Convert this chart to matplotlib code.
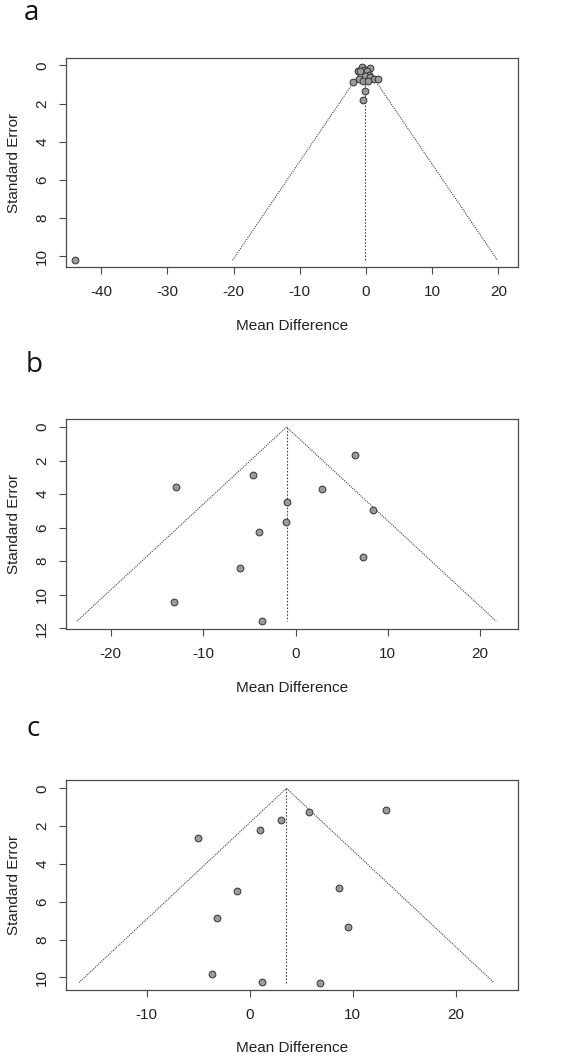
import matplotlib
matplotlib.use("Agg")
import matplotlib.pyplot as plt
import numpy as np

plt.rcParams["font.family"] = ["Liberation Sans", "DejaVu Sans"]

# panel a: mean difference / standard error of each study
md_a = [-0.6, 0.55, -0.25, -1.25, 0.15, -0.85, 0.4, -0.1, -1.1, 0.65,
        1.15, 1.8, -2.0, -0.45, 0.3, -0.15, -0.45, -43.9]
se_a = [0.10, 0.14, 0.23, 0.31, 0.31, 0.28, 0.49, 0.54, 0.70, 0.61,
        0.72, 0.70, 0.89, 0.79, 0.79, 1.36, 1.83, 10.17]
# panel b
md_b = [6.46, -4.62, -12.96, 2.85, -0.97, 8.38, -1.05, -4.0, 7.36, -6.06,
        -13.14, -3.65]
se_b = [1.67, 2.84, 3.58, 3.72, 4.49, 4.95, 5.69, 6.26, 7.73, 8.39,
        10.44, 11.59]
# panel c
md_c = [13.23, 5.75, 3.03, 0.98, -4.98, 8.7, -1.22, -3.2, 9.5, -3.65,
        1.24, 6.85]
se_c = [1.16, 1.27, 1.68, 2.19, 2.61, 5.27, 5.41, 6.84, 7.34, 9.84,
        10.23, 10.30]

# pooled estimate (funnel centre) and largest SE per panel
centre = {"a": -0.15, "b": -0.97, "c": 3.57}
se_max = {"a": 10.2, "b": 11.59, "c": 10.28}

xticks = {"a": [-40, -30, -20, -10, 0, 10, 20],
          "b": [-20, -10, 0, 10, 20],
          "c": [-10, 0, 10, 20]}
yticks = {"a": [0, 2, 4, 6, 8, 10],
          "b": [0, 2, 4, 6, 8, 10, 12],
          "c": [0, 2, 4, 6, 8, 10]}

W, H = 567, 1059
fig = plt.figure(figsize=(W / 100, H / 100), dpi=100)

boxes = {"a": (66, 58, 518, 267),
         "b": (66, 419, 518, 629),
         "c": (66, 780, 518, 990)}
xlims = {"a": (-45.3, 22.95), "b": (-24.86, 24.1), "c": (-17.83, 26.05)}
ylims = {"a": (10.56, -0.39), "b": (12.05, -0.48), "c": (10.67, -0.44)}
label_pos = {"a": (24, 20), "b": (26, 372), "c": (27, 736)}

data = {"a": (md_a, se_a), "b": (md_b, se_b), "c": (md_c, se_c)}
edge = "#4a4a4a"

for key in ["a", "b", "c"]:
    l, t, r, b = boxes[key]
    ax = fig.add_axes([l / W, 1 - b / H, (r - l) / W, (b - t) / H])
    md, se = data[key]
    c0, sm = centre[key], se_max[key]

    ax.plot([c0 - 1.96 * sm, c0, c0 + 1.96 * sm], [sm, 0, sm],
            ls=(0, (1, 1)), color="#444444", lw=0.8, zorder=1)
    ax.plot([c0, c0], [0, sm], ls=(0, (1.5, 1.5)), color="#444444",
            lw=0.8, zorder=1)
    ax.scatter(md, se, s=24, facecolor="#9a9a9a", edgecolor="#333333",
               linewidths=0.7, zorder=3)

    ax.set_xlim(*xlims[key])
    ax.set_ylim(*ylims[key])
    ax.set_xticks(xticks[key])
    ax.set_yticks(yticks[key])
    ax.set_xticklabels([str(v) for v in xticks[key]], fontsize=11,
                       color="#222222")
    ax.set_yticklabels([str(v) for v in yticks[key]], fontsize=11,
                       color="#222222", rotation=90, va="center")
    ax.tick_params(direction="out", length=5, width=0.8, color=edge)
    ax.tick_params(axis="x", pad=8)
    ax.tick_params(axis="y", pad=7)
    for s in ax.spines.values():
        s.set_color(edge)
        s.set_linewidth(0.9)
    ax.set_xlabel("Mean Difference", fontsize=11, color="#222222",
                  labelpad=14)
    ax.set_ylabel("Standard Error", fontsize=11, color="#222222",
                  labelpad=10)

    lx, ly = label_pos[key]
    fig.text(lx / W, 1 - ly / H, key, fontsize=20, color="#111111",
             family=["Open Sans", "DejaVu Sans"], ha="left", va="baseline")

fig.savefig("out.png", dpi=100)
